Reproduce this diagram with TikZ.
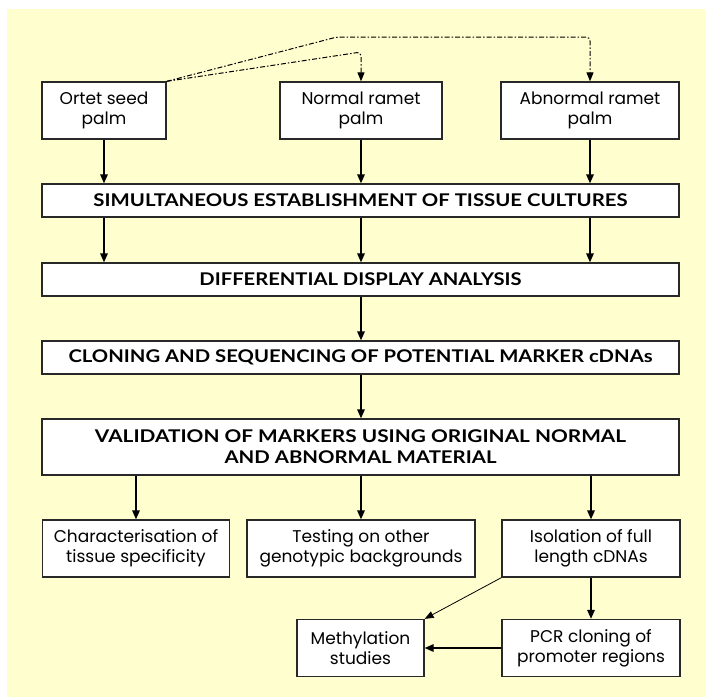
\documentclass[tikz,border=0pt]{standalone}
\usepackage{fontspec}
\usepackage{graphicx}
\setmainfont{Poppins}
\newfontfamily\capsfont{Lato}[FakeStretch=0.85]
\usetikzlibrary{arrows.meta}
\definecolor{bgyellow}{RGB}{255,254,206}
\definecolor{edgecol}{RGB}{40,40,40}
\newcommand\fitw[2]{\resizebox{#1}{\height}{#2}}
\begin{document}
\begin{tikzpicture}[x=1pt,y=-1pt,
  box/.style={draw=edgecol, line width=1.3pt, fill=white, inner sep=0pt, align=center,
    font=\fontsize{17}{20}\selectfont},
  capbox/.style={box, font=\capsfont\bfseries\fontsize{17.5}{21}\selectfont},
  arr/.style={draw=black, line width=1.6pt, -{Triangle[length=9pt,width=7.5pt]}},
  thinarr/.style={draw=black, line width=0.8pt, -{Triangle[length=9pt,width=7pt]}},
  dd/.style={draw=black, line width=1pt, rounded corners=4pt,
    dash pattern=on 5pt off 2pt on 1.5pt off 2pt, -{Triangle[length=9pt,width=7pt]}}
]
\useasboundingbox (0,0) rectangle (706,697);
\fill[white] (0,0) rectangle (706,697);
\fill[bgyellow] (7,9) rectangle (706,697);

% top row
\node[box, minimum width=124pt, minimum height=57pt] (ortet) at (104,110.5) {Ortet seed\\palm};
\node[box, minimum width=162pt, minimum height=57pt] (normal) at (361,110.5) {Normal ramet\\palm};
\node[box, minimum width=178pt, minimum height=57pt] (abn) at (590,110.5) {Abnormal ramet\\palm};

% wide boxes
\node[capbox, minimum width=637pt, minimum height=33pt] (sim) at (360.5,200.5)
  {\fitw{534pt}{SIMULTANEOUS ESTABLISHMENT OF TISSUE CULTURES}};
\node[capbox, minimum width=637pt, minimum height=33pt] (dif) at (360.5,279.5)
  {\fitw{322pt}{DIFFERENTIAL DISPLAY ANALYSIS}};
\node[capbox, minimum width=637pt, minimum height=33pt] (clo) at (360.5,357.5)
  {\fitw{584pt}{CLONING AND SEQUENCING OF POTENTIAL MARKER cDNAs}};
\node[capbox, minimum width=637pt, minimum height=56pt] (val) at (360.5,447)
  {\fitw{531pt}{VALIDATION OF MARKERS USING ORIGINAL NORMAL}\\\fitw{272pt}{AND ABNORMAL MATERIAL}};

% lower rows
\node[box, minimum width=187pt, minimum height=57pt] (chr) at (136,548.5) {Characterisation of\\tissue specificity};
\node[box, minimum width=228pt, minimum height=57pt] (tst) at (361,548.5) {Testing on other\\genotypic backgrounds};
\node[box, minimum width=178pt, minimum height=57pt] (iso) at (591,548.5) {Isolation of full\\length cDNAs};
\node[box, minimum width=127pt, minimum height=57pt] (met) at (360.5,648) {Methylation\\studies};
\node[box, minimum width=178pt, minimum height=57pt] (pcr) at (591,648) {PCR cloning of\\promoter regions};

% dash-dot connectors from the ortet palm
\draw[dd] (ortet.north east) -- (337,37) -- (590,37) -- (abn.north);
\draw[dd] (ortet.north east) -- (361,52) -- (normal.north);

% arrows
\draw[arr] (ortet.south) -- (ortet.south |- sim.north);
\draw[arr] (normal.south) -- (normal.south |- sim.north);
\draw[arr] (abn.south) -- (abn.south |- sim.north);
\draw[arr] (sim.south -| ortet.south) -- (ortet.south |- dif.north);
\draw[arr] (sim.south -| normal.south) -- (normal.south |- dif.north);
\draw[arr] (sim.south -| abn.south) -- (abn.south |- dif.north);
\draw[arr] (dif.south -| normal.south) -- (normal.south |- clo.north);
\draw[arr] (clo.south -| normal.south) -- (normal.south |- val.north);
\draw[arr] (val.south -| chr.north) -- (chr.north);
\draw[arr] (val.south -| tst.north) -- (tst.north);
\draw[arr] (val.south -| iso.north) -- (iso.north);
\draw[arr] (iso.south) -- (pcr.north);
\draw[thinarr] (iso.south west) -- (met.north east);
\draw[arr] (pcr.west) -- (met.east);
\end{tikzpicture}
\end{document}
